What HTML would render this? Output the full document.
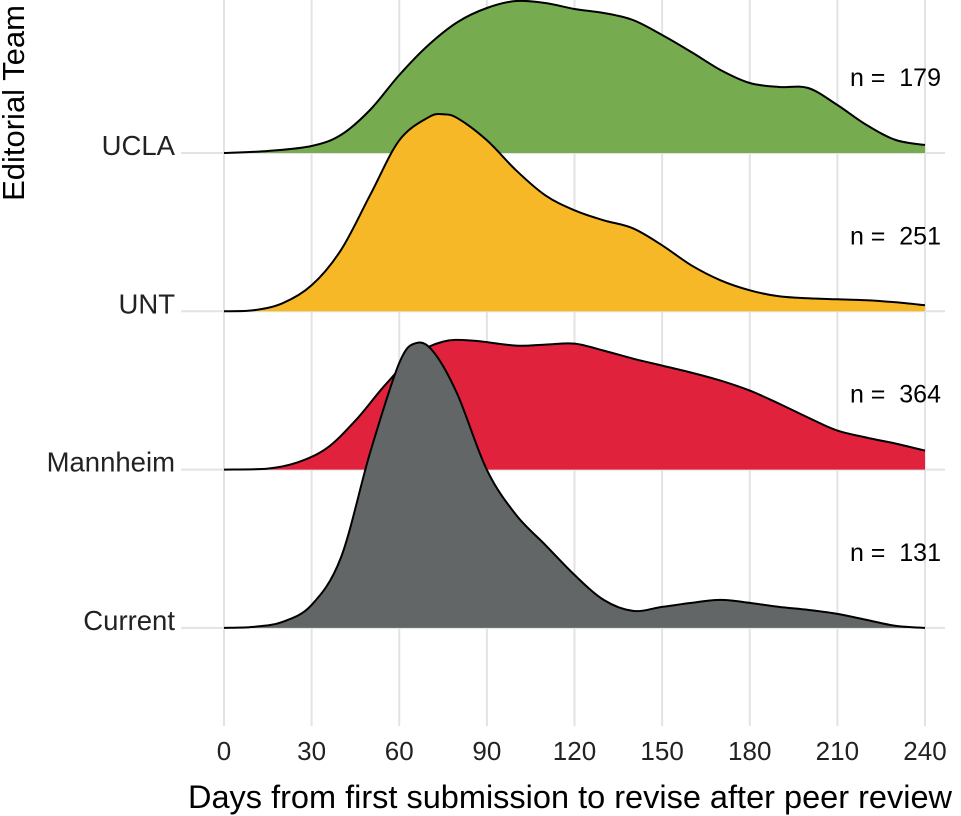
<!DOCTYPE html>
<html><head><meta charset="utf-8"><style>
html,body{margin:0;padding:0;background:#fff;}
svg{display:block;font-family:"Liberation Sans",sans-serif;}
.nl{white-space:pre;}
</style></head><body>
<svg id="chart" width="961" height="816" viewBox="0 0 961 816">
<g id="grid"></g>
<g id="ridges"></g>
<g id="labels"></g>
<text x="0" y="0" transform="translate(24,103) rotate(-90)" text-anchor="middle" font-size="31" fill="#000">Editorial Team</text>
<text x="570" y="808" text-anchor="middle" font-size="32.5" fill="#000">Days from first submission to revise after peer review</text>
</svg>
<script>
const categories = ["UCLA","UNT","Mannheim","Current"];
const counts = [179,251,364,131];
const colors = ["#77ab4f","#f6b826","#e0223d","#636666"];
const xTicks = [0,30,60,90,120,150,180,210,240];
const daysUCLA = [0,15,30,40,50,60,70,80,90,100,110,120,130,140,150,160,170,180,190,200,210,220,230,240];
const densUCLA = [0,0.02,0.07,0.18,0.43,0.78,1.08,1.31,1.45,1.52,1.50,1.44,1.40,1.33,1.18,1.01,0.83,0.70,0.66,0.65,0.48,0.28,0.13,0.08];
const daysUNT = [0,10,20,30,40,50,60,70,75,80,90,100,110,120,130,140,150,160,170,180,190,200,210,220,230,240];
const densUNT = [0,0.01,0.08,0.26,0.61,1.16,1.71,1.94,1.97,1.93,1.71,1.41,1.16,1.01,0.91,0.83,0.66,0.46,0.31,0.21,0.15,0.13,0.12,0.11,0.09,0.06];
const daysMannheim = [0,15,25,35,45,55,65,75,85,100,110,120,130,140,150,160,170,180,190,200,210,220,230,240];
const densMannheim = [0,0.01,0.07,0.21,0.49,0.84,1.14,1.28,1.29,1.24,1.25,1.26,1.19,1.11,1.04,0.97,0.89,0.79,0.66,0.52,0.39,0.32,0.26,0.19];
const daysCurrent = [0,10,20,30,40,50,60,66,72,80,90,100,110,120,130,140,150,160,170,180,190,200,210,220,230,240];
const densCurrent = [0,0.01,0.06,0.23,0.70,1.75,2.65,2.85,2.75,2.33,1.58,1.13,0.83,0.53,0.28,0.17,0.21,0.25,0.28,0.25,0.21,0.18,0.14,0.08,0.02,0];
const seriesDays = [daysUCLA,daysUNT,daysMannheim,daysCurrent];
const seriesDens = [densUCLA,densUNT,densMannheim,densCurrent];

const NS="http://www.w3.org/2000/svg";
const x0=224,x1=925,d0=0,d1=240;
function xs(d){return x0+(d-d0)/(d1-d0)*(x1-x0);}
const rowTop=153,rowStep=158.3,hScale=100;
function baseY(i){return rowTop+i*rowStep;}
function ys(i,v){return baseY(i)-v*hScale;}
function mk(tag,attrs,parent){const e=document.createElementNS(NS,tag);for(const k in attrs)e.setAttribute(k,attrs[k]);parent.appendChild(e);return e;}
const grid=document.getElementById('grid'),ridges=document.getElementById('ridges'),labels=document.getElementById('labels');
xTicks.forEach(t=>{
  const l=mk('line',{x1:xs(t),x2:xs(t),y1:0,y2:726,stroke:'#e3e3e3','stroke-width':2},grid);
  
  
  const tx=mk('text',{x:xs(t),y:760,'text-anchor':'middle','font-size':26,fill:'#222'},labels);
  tx.textContent=t;
  
  
});
categories.forEach((c,i)=>{
  const l=mk('line',{x1:181,x2:945,y1:baseY(i),y2:baseY(i),stroke:'#e3e3e3','stroke-width':2},grid);
  
  
});
function smoothPath(pts){
  let d='M'+pts[0][0]+','+pts[0][1];
  for(let k=0;k<pts.length-1;k++){
    const p0=pts[Math.max(0,k-1)],p1=pts[k],p2=pts[k+1],p3=pts[Math.min(pts.length-1,k+2)];
    const c1=[p1[0]+(p2[0]-p0[0])/6,p1[1]+(p2[1]-p0[1])/6];
    const c2=[p2[0]-(p3[0]-p1[0])/6,p2[1]-(p3[1]-p1[1])/6];
    d+=' C'+c1[0].toFixed(1)+','+c1[1].toFixed(1)+' '+c2[0].toFixed(1)+','+c2[1].toFixed(1)+' '+p2[0].toFixed(1)+','+p2[1].toFixed(1);
  }
  return d;
}
categories.forEach((c,i)=>{
  const pts=seriesDays[i].map((d,k)=>[xs(d),ys(i,seriesDens[i][k])]);
  const line=smoothPath(pts);
  const last=pts[pts.length-1];
  const f=mk('path',{d:line+' L'+last[0]+','+baseY(i)+' L'+pts[0][0]+','+baseY(i)+' Z',fill:colors[i],stroke:'none'},ridges);
  
  
  const o=mk('path',{d:line,fill:'none',stroke:'#000','stroke-width':2},ridges);
  
  
  const lb=mk('text',{x:175,y:baseY(i)+2,'text-anchor':'end','font-size':27.5,fill:'#222'},labels);
  lb.textContent=c;
  
  
  const n=mk('text',{x:941,y:baseY(i)-67,'text-anchor':'end','font-size':25,fill:'#000','class':'nl'},labels);
  n.textContent='n =  '+counts[i];
  
  
});
</script>
</body></html>
